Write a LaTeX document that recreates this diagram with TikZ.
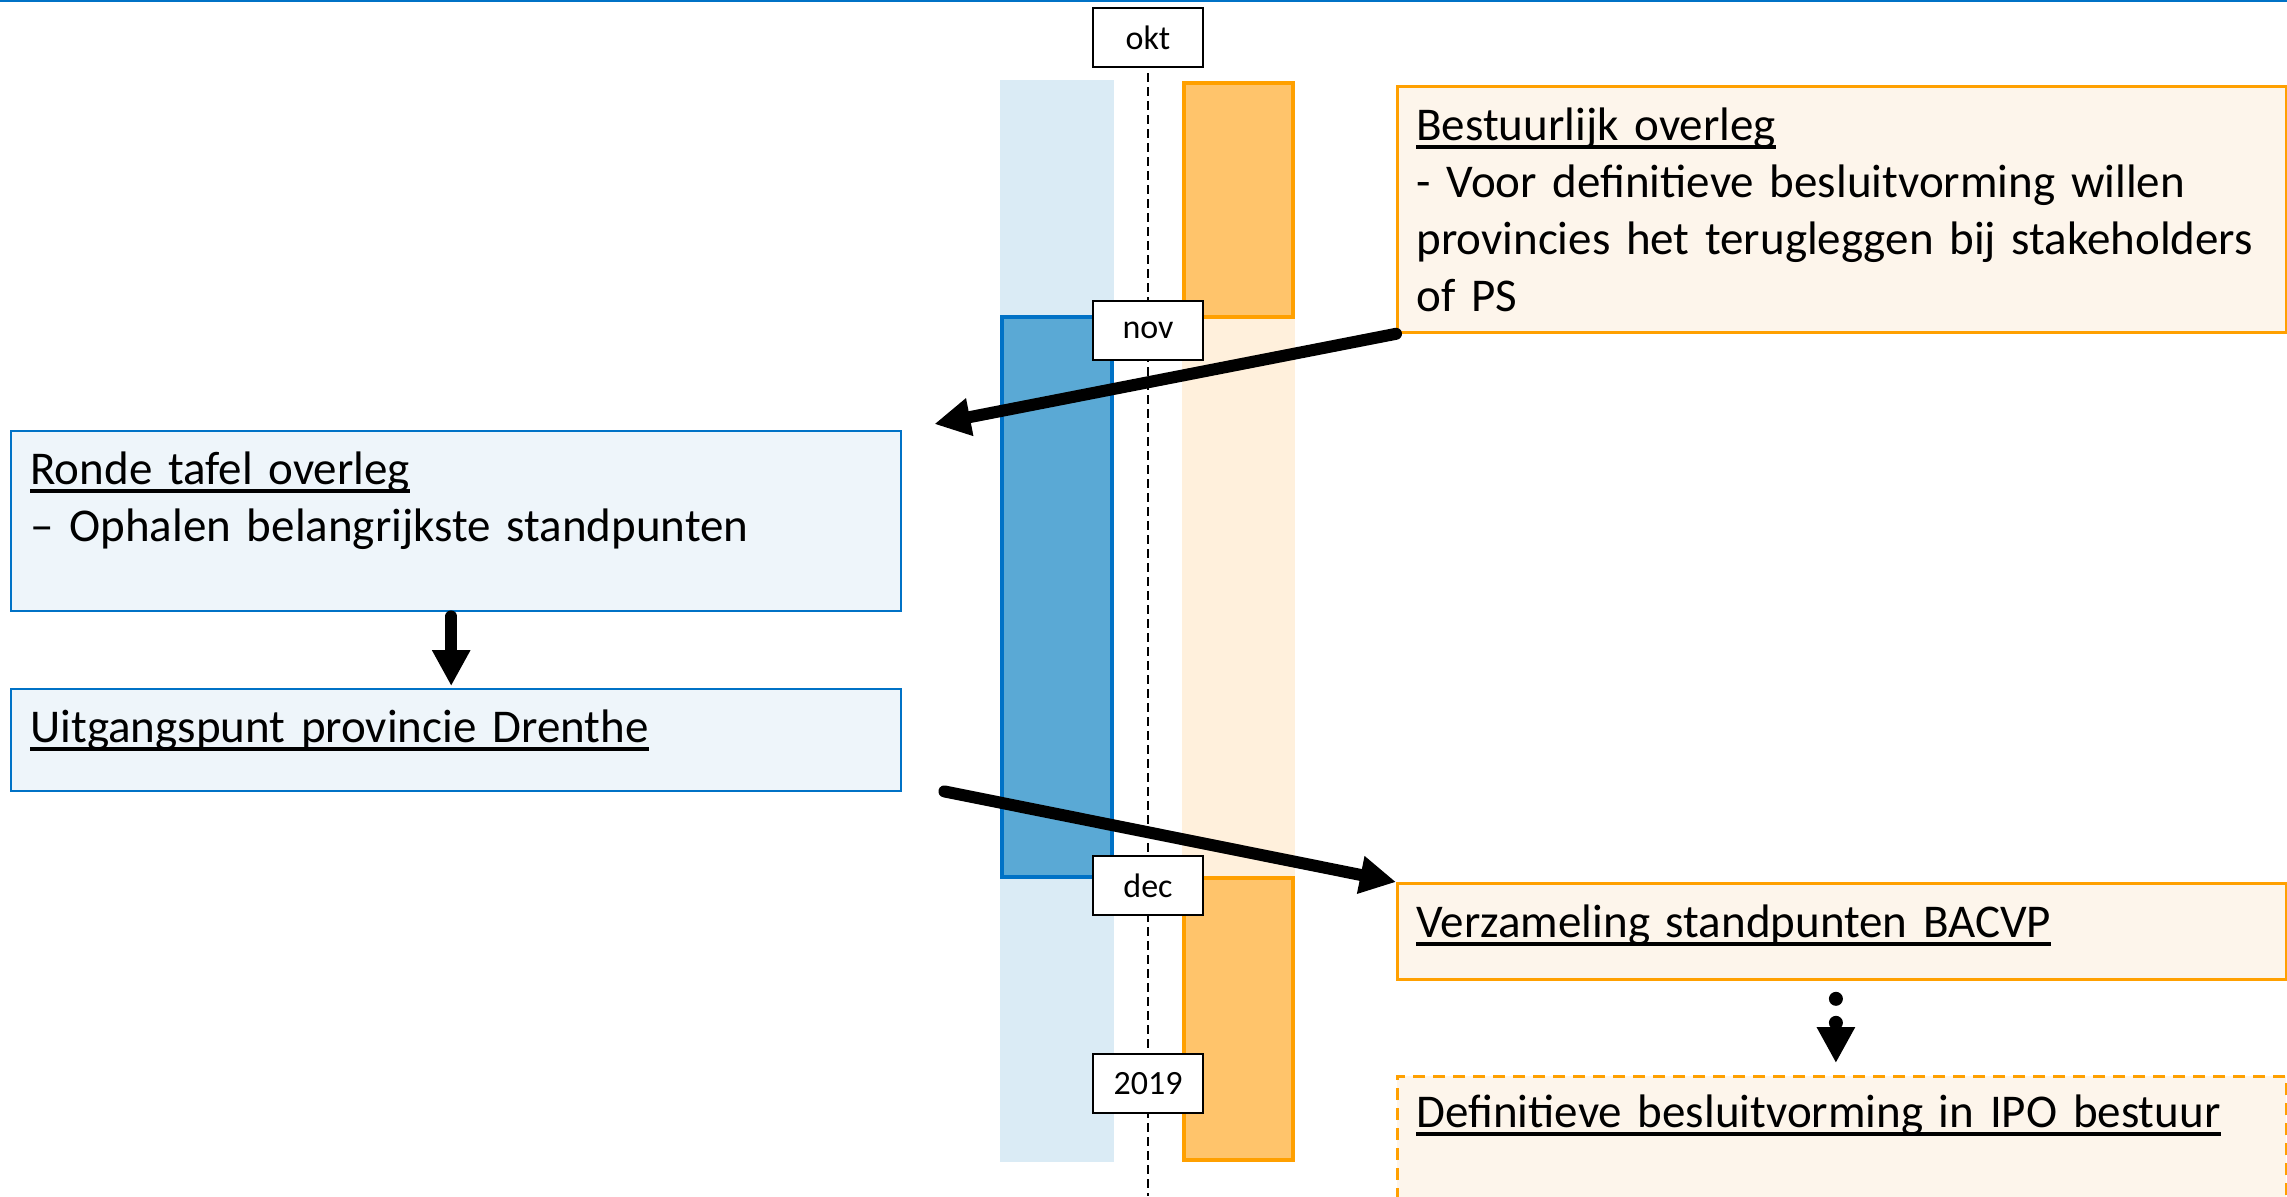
\documentclass[tikz,border=0pt]{standalone}
\usepackage{fontspec}
\setmainfont{Carlito}
\usetikzlibrary{positioning,calc,arrows.meta}

\definecolor{lineblue}{RGB}{0,114,198}
\definecolor{paleblue}{RGB}{238,245,250}
\definecolor{colblue}{RGB}{218,235,245}
\definecolor{barblue}{RGB}{90,169,213}
\definecolor{lineorange}{RGB}{255,160,0}
\definecolor{paleorange}{RGB}{253,245,235}
\definecolor{colorange}{RGB}{255,240,220}
\definecolor{barorange}{RGB}{255,196,107}

\newsavebox{\ulbox}
\newcommand{\uln}[1]{\sbox{\ulbox}{#1}\rlap{\rule[-4.4pt]{\wd\ulbox}{1.7pt}}\usebox{\ulbox}}

\begin{document}
\begin{tikzpicture}
        [x=0.5pt,y=-0.5pt,
        boxtext/.style={anchor=base west,inner sep=0pt,text width=440pt,align=left,
          font=\fontsize{23.5}{28.5}\selectfont},
        bluebox/.style={draw=lineblue,fill=paleblue,line width=1.2pt,anchor=north west,inner sep=0pt},
        orangebox/.style={draw=lineorange,fill=paleorange,line width=1.4pt,anchor=north west,inner sep=0pt},
        monthbox/.style={draw=black,fill=white,line width=1.4pt,minimum width=55pt,minimum height=29.5pt,
          inner sep=0pt,font=\fontsize{17}{20}\selectfont},
        timeline/.style={draw=black,line width=1.2pt,dash pattern=on 4.5pt off 2.5pt},
        bigarrow/.style={-{Triangle[width=18pt,length=18pt]},line width=6pt,line cap=round},
        dotarrow/.style={-{Triangle[width=18pt,length=18pt]},line width=7pt,line cap=round,
          dash pattern=on 0pt off 12pt}]
        \useasboundingbox (0,0) rectangle (2287,1196);
        \clip (0,0) rectangle (2287,1196);
        \draw[lineblue,line width=1pt] (0,1) -- (2287,1);

        \fill[colblue] (1000,80) rectangle (1114,1162);
        \fill[colorange] (1182,319) rectangle (1295,876);
        \filldraw[draw=lineblue,fill=barblue,line width=2pt] (1002,317) rectangle (1112,877);
        \filldraw[draw=lineorange,fill=barorange,line width=2pt] (1184,83) rectangle (1293,317);
        \filldraw[draw=lineorange,fill=barorange,line width=2pt] (1184,878) rectangle (1293,1160);

        \coordinate (tl-top) at (1148,73);
        \coordinate (tl-bot) at (1148,1196);
        \draw[timeline] (tl-top) -- (tl-bot);
        \foreach \m/\y in {okt/37.5,nov/330.5,dec/885.5,2019/1083.5}
            \node[monthbox] (m-\m) at (1148,\y) {\m};

        \node[bluebox,minimum width=445pt,minimum height=90pt] (ronde) at (10,430) {};
        \node[bluebox,minimum width=445pt,minimum height=51pt] (uitgang) at (10,688) {};
        \node[orangebox,minimum width=444.5pt,minimum height=123pt] (bestuur) at (1396,85) {};
        \node[orangebox,minimum width=444.5pt,minimum height=48pt] (verzameling) at (1396,882) {};
        \node[orangebox,dash pattern=on 6pt off 4pt,minimum width=444.5pt,minimum height=75pt] (besluit) at (1396,1075) {};

        \node[boxtext] (ronde-t) at ([shift={(20,54)}]ronde.north west)
            {\uln{Ronde tafel overleg}\\ – Ophalen belangrijkste standpunten};
        \node[boxtext] (uitgang-t) at ([shift={(20,54)}]uitgang.north west)
            {\uln{Uitgangspunt provincie Drenthe}};
        \node[boxtext] (bestuur-t) at ([shift={(20,55)}]bestuur.north west)
            {\uln{Bestuurlijk overleg}\\ - Voor definitieve besluitvorming willen\\
             provincies het terugleggen bij stakeholders\\ of PS};
        \node[boxtext] (verzameling-t) at ([shift={(20,55)}]verzameling.north west)
            {\uln{Verzameling standpunten BACVP}};
        \node[boxtext] (besluit-t) at ([shift={(20,52)}]besluit.north west)
            {\uln{Definitieve besluitvorming in IPO bestuur}};

        \coordinate (tip-a) at ([shift={(32,-6)}]ronde.north east);
        \coordinate (tail-b) at ([shift={(42,-1)}]uitgang.south east);
        \draw[bigarrow] (bestuur.south west) -- (tip-a);
        \draw[bigarrow] (tail-b) -- (verzameling.north west);
        \draw[bigarrow,shorten <=2pt,shorten >=1pt] ([xshift=-2.5pt]ronde.south) -- ([xshift=-2.5pt]uitgang.north);
        \draw[dotarrow,shorten <=9pt,shorten >=6pt] ([xshift=-3pt]verzameling.south) -- ([xshift=-3pt]besluit.north);
\end{tikzpicture}
\end{document}
